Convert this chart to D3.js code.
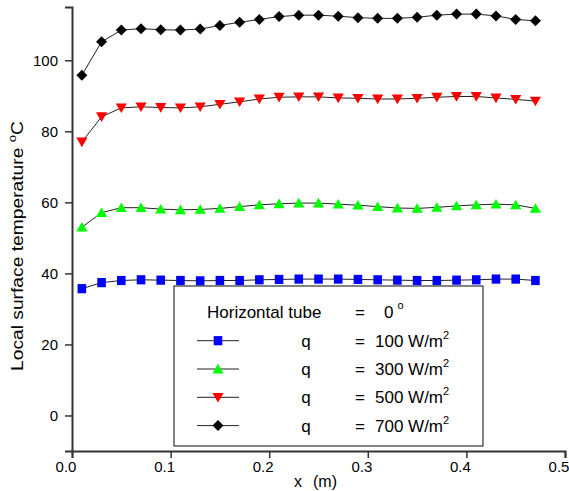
<!DOCTYPE html>
<html>
<head>
<meta charset="utf-8">
<script src="https://cdn.jsdelivr.net/npm/d3@7"></script>
<style>
  body { margin: 0; background: #fff; }
  text { font-family: "Liberation Sans", Arial, sans-serif; fill: #000; }
</style>
</head>
<body>
<script>
// x positions along the tube (m)
const xValues = [0.01, 0.03, 0.05, 0.07, 0.09, 0.11, 0.13, 0.15, 0.17, 0.19, 0.21, 0.23,
  0.25, 0.27, 0.29, 0.31, 0.33, 0.35, 0.37, 0.39, 0.41, 0.43, 0.45, 0.47]

// surface temperature (°C) per heat flux
const q100 = [35.7, 37.4, 38.0, 38.2, 38.1, 38.0, 37.9, 38.0, 38.0, 38.2, 38.3, 38.4,
  38.4, 38.4, 38.3, 38.2, 38.1, 38.0, 38.0, 38.1, 38.2, 38.4, 38.4, 38.0]
const q300 = [53.0, 57.1, 58.5, 58.5, 58.1, 57.9, 58.0, 58.3, 58.8, 59.3, 59.6, 59.8,
  59.8, 59.5, 59.2, 58.8, 58.4, 58.3, 58.6, 59.0, 59.3, 59.5, 59.3, 58.3]
const q500 = [77.0, 84.1, 86.6, 86.9, 86.7, 86.6, 86.9, 87.6, 88.3, 89.1, 89.6, 89.7,
  89.7, 89.4, 89.3, 89.1, 89.1, 89.3, 89.6, 89.8, 89.8, 89.4, 89.0, 88.5]
const q700 = [95.8, 105.2, 108.5, 108.9, 108.6, 108.5, 108.8, 109.8, 110.7, 111.5, 112.3, 112.7,
  112.7, 112.4, 112.0, 111.8, 111.8, 112.1, 112.7, 113.0, 113.0, 112.5, 111.5, 111.1]

const seriesLabels = ["100", "300", "500", "700"]
const xTicks = [0, 0.1, 0.2, 0.3, 0.4, 0.5]
const yTicks = [0, 20, 40, 60, 80, 100]

const width = 569
const height = 491

const x = d3.scaleLinear().domain([0, 0.5]).range([72, 565])
const y = d3.scaleLinear().domain([-10, 115]).range([451, 7])

const series = [
  { label: seriesLabels[0], values: q100, color: "#0000ff", shape: "square" },
  { label: seriesLabels[1], values: q300, color: "#00ff00", shape: "up" },
  { label: seriesLabels[2], values: q500, color: "#ff0000", shape: "down" },
  { label: seriesLabels[3], values: q700, color: "#000000", shape: "diamond" },
]

const svg = d3.select("body").append("svg")
  .attr("width", width)
  .attr("height", height)

function markerPath(shape) {
  if (shape === "square") return "M-4.3,-4.6H4.3V4.6H-4.3Z"
  if (shape === "up") return "M0,-5.2L5.6,4.4H-5.6Z"
  if (shape === "down") return "M0,5.2L5.6,-4.4H-5.6Z"
  return "M0,-5.5L5.5,0L0,5.5L-5.5,0Z"
}

// lines + markers
const line = d3.line().x((d, i) => x(xValues[i])).y(d => y(d))

series.forEach(s => {
  svg.append("path")
    .attr("d", line(s.values))
    .attr("fill", "none")
    .attr("stroke", "#222")
    .attr("stroke-width", 1)

  svg.append("g")
    .selectAll("path")
    .data(s.values)
    .enter()
    .append("path")
    .attr("transform", (d, i) => `translate(${x(xValues[i])},${y(d)})`)
    .attr("d", markerPath(s.shape))
    .attr("fill", s.color)
})

// axes
const xAxis = svg.append("g").attr("transform", "translate(0,451)")
xAxis.call(d3.axisBottom(x).tickValues(d3.range(0, 0.501, 0.05)).tickSize(4).tickFormat(""))
xAxis.call(d3.axisBottom(x).tickValues(xTicks).tickSize(7).tickFormat(d3.format(".1f")))
xAxis.selectAll(".domain").attr("stroke", "#333").attr("stroke-width", 2)
xAxis.selectAll("line").attr("stroke", "#333").attr("stroke-width", 1.5)
xAxis.selectAll("text").attr("font-size", 15).attr("font-family", null).attr("y", 10).attr("x", -6.5)

const yAxis = svg.append("g").attr("transform", "translate(72,0)")
yAxis.call(d3.axisLeft(y).tickValues(d3.range(-10, 115, 10)).tickSize(4).tickFormat(""))
yAxis.call(d3.axisLeft(y).tickValues(yTicks).tickSize(7))
yAxis.selectAll(".domain").attr("stroke", "#333").attr("stroke-width", 2)
yAxis.selectAll("line").attr("stroke", "#333").attr("stroke-width", 1.5)
yAxis.selectAll("text").attr("font-size", 15).attr("font-family", null).attr("x", -14)

// axis titles
const xt = svg.append("text").attr("y", 487).attr("font-size", 16)
xt.append("tspan").attr("x", 294).text("x")
xt.append("tspan").attr("x", 313).text("(m)")

const yt = svg.append("text")
  .attr("transform", "translate(23,246) rotate(-90)")
  .attr("text-anchor", "middle")
  .attr("font-size", 16)
  .attr("textLength", 250)
  .attr("lengthAdjust", "spacingAndGlyphs")
yt.append("tspan").text("Local surface temperature ")
yt.append("tspan").attr("font-size", 11).attr("dy", -7).text("o")
yt.append("tspan").attr("dy", 7).text("C")

// legend
const fs = 17
const legend = svg.append("g")
legend.append("rect")
  .attr("x", 174).attr("y", 286).attr("width", 309).attr("height", 160)
  .attr("fill", "#fff").attr("stroke", "#333").attr("stroke-width", 1.2)

legend.append("text").attr("x", 207).attr("y", 318).attr("font-size", fs).text("Horizontal tube")
legend.append("text").attr("x", 360).attr("y", 318).attr("font-size", fs).attr("text-anchor", "middle").text("=")
const zero = legend.append("text").attr("x", 384).attr("y", 318).attr("font-size", fs)
zero.append("tspan").text("0")
zero.append("tspan").attr("dx", 4).attr("dy", -9).attr("font-size", 11).text("o")

series.forEach((s, i) => {
  const base = 346.7 + i * 28.3
  const cy = base - 6
  legend.append("line")
    .attr("x1", 197).attr("x2", 239).attr("y1", cy).attr("y2", cy)
    .attr("stroke", "#222").attr("stroke-width", 1)
  legend.append("path")
    .attr("transform", `translate(218,${cy})`)
    .attr("d", markerPath(s.shape))
    .attr("fill", s.color)
  legend.append("text").attr("x", 306).attr("y", base).attr("font-size", fs).attr("text-anchor", "middle").text("q")
  legend.append("text").attr("x", 360).attr("y", base).attr("font-size", fs).attr("text-anchor", "middle").text("=")
  const t = legend.append("text").attr("x", 375).attr("y", base).attr("font-size", fs)
  t.append("tspan").text(s.label + " W/m")
  t.append("tspan").attr("dy", -8).attr("font-size", 11).text("2")
})
</script>
</body>
</html>
